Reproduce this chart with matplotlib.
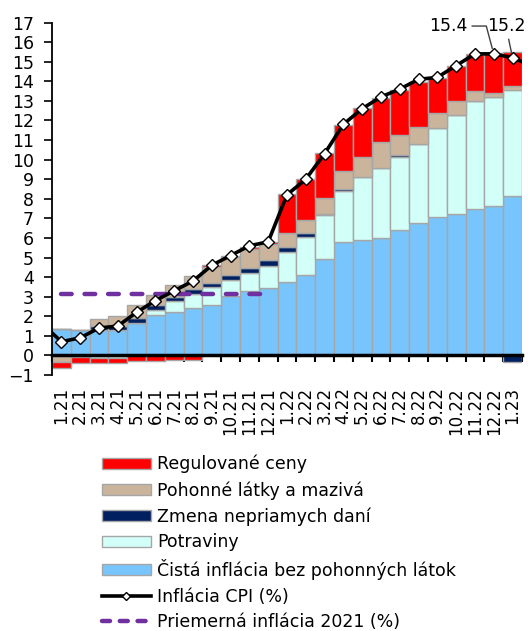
import numpy as np
import matplotlib.pyplot as plt
from matplotlib.patches import Patch
from matplotlib.lines import Line2D

plt.rcParams['font.family'] = ['DejaVu Sans']

mesiace = ['1.21', '2.21', '3.21', '4.21', '5.21', '6.21', '7.21', '8.21', '9.21', '10.21', '11.21', '12.21',
           '1.22', '2.22', '3.22', '4.22', '5.22', '6.22', '7.22', '8.22', '9.22', '10.22', '11.22', '12.22',
           '1.23']
# zlozky (p.b.), poradie od spodu
cista = [1.36, 1.31, 1.32, 1.31, 1.68, 2.05, 2.22, 2.43, 2.55, 3.01, 3.28, 3.44,
         3.73, 4.12, 4.90, 5.77, 5.90, 5.99, 6.38, 6.75, 7.06, 7.23, 7.47, 7.64, 8.15]
potraviny = [0.0, -0.10, -0.12, -0.12, 0.0, 0.28, 0.54, 0.72, 0.92, 0.83, 0.92, 1.13,
             1.57, 1.91, 2.28, 2.63, 3.23, 3.57, 3.77, 4.05, 4.54, 5.05, 5.52, 5.54, 5.40]
dane = [0.0, 0.0, 0.20, 0.20, 0.22, 0.25, 0.22, 0.25, 0.22, 0.25, 0.25, 0.30,
        0.22, 0.22, 0.05, 0.08, 0.0, 0.0, 0.08, 0.0, 0.0, 0.0, 0.0, 0.0, -0.35]
pohonne = [-0.33, 0.0, 0.34, 0.52, 0.68, 0.50, 0.62, 0.65, 0.85, 0.96, 0.97, 0.81,
           0.72, 0.67, 0.80, 0.92, 1.00, 1.32, 1.05, 0.88, 0.76, 0.72, 0.51, 0.20, 0.21]
regulovane = [-0.30, -0.27, -0.25, -0.25, -0.27, -0.27, -0.25, -0.25, 0.09, 0.05, 0.10, 0.10,
              1.99, 2.08, 2.29, 2.38, 2.50, 2.25, 2.26, 2.30, 1.79, 1.78, 1.87, 2.05, 1.75]
cpi = [0.7, 0.9, 1.4, 1.5, 2.2, 2.8, 3.3, 3.8, 4.6, 5.1, 5.6, 5.8,
       8.2, 9.0, 10.3, 11.8, 12.6, 13.2, 13.6, 14.1, 14.2, 14.8, 15.4, 15.4, 15.2]
cpi_pred = 1.6   # 12.20 - len kusok ciary vlavo
cpi_po = 14.8    # 2.23 - len kusok ciary vpravo
priemer_2021 = 3.15

nazvy = ['Čistá inflácia bez pohonných látok', 'Potraviny', 'Zmena nepriamych daní',
         'Pohonné látky a mazivá', 'Regulované ceny']
farby = ['#78C5FE', '#D2FFF8', '#002060', '#CAB49C', '#FF0000']
zlozky = [cista, potraviny, dane, pohonne, regulovane]

x = np.arange(len(mesiace))
fig = plt.figure(figsize=(5.28, 6.31), dpi=100, facecolor='w')
ax = fig.add_axes([0.0985, 0.4057, 0.89, 0.5586])

dole_pos = np.zeros(len(x))
dole_neg = np.zeros(len(x))
for hodn, farba in zip(zlozky, farby):
    h = np.array(hodn)
    spodok = np.where(h >= 0, dole_pos, dole_neg)
    ax.bar(x, h, 1.0, bottom=spodok, color=farba, edgecolor='#A6A6A6', linewidth=1, zorder=2)
    dole_pos = dole_pos + np.clip(h, 0, None)
    dole_neg = dole_neg + np.clip(h, None, 0)

# priemerna inflacia 2021
ax.plot(x[:12], [priemer_2021] * 12, color='#7030A0', lw=3.2, dashes=(2.4, 2.9),
        dash_capstyle='round', zorder=4)

# CPI
xl = np.arange(-1, len(x) + 1)
yl = [cpi_pred] + cpi + [cpi_po]
ax.plot(xl, yl, color='black', lw=2.6, marker='D', ms=6.5, mfc='white', mec='black', mew=1,
        markevery=list(range(1, len(x) + 1)), zorder=5)

ax.annotate('15.4', xy=(23, cpi[23]), xytext=(20.6, 16.82), fontsize=12.5, ha='center', va='center',
            arrowprops=dict(arrowstyle='-', color='#404040', lw=1, shrinkA=1, shrinkB=4,
                            connectionstyle='angle,angleA=0,angleB=105,rad=0'))
ax.annotate('15.2', xy=(24, cpi[24]), xytext=(23.65, 16.82), fontsize=12.5, ha='center', va='center',
            arrowprops=dict(arrowstyle='-', color='#404040', lw=1, shrinkA=1, shrinkB=4))

ax.set_xlim(-0.5, len(x) - 0.5)
ax.set_ylim(-1, 17)
ax.set_yticks(range(-1, 18))
ax.tick_params(axis='y', labelsize=12.5, length=6, width=1.2, pad=7)

ax.spines['top'].set_visible(False)
ax.spines['right'].set_visible(False)
ax.spines['left'].set_linewidth(1.3)
ax.spines['bottom'].set_position(('data', 0))
ax.spines['bottom'].set_linewidth(2.5)
ax.spines['bottom'].set_zorder(6)
ax.set_xticks(x)
ax.set_xticklabels(mesiace, rotation=90, fontsize=12)
ax.set_xticks(np.arange(-0.5, len(x)), minor=True)
ax.tick_params(axis='x', which='major', length=0, pad=23)
ax.tick_params(axis='x', which='minor', length=5, width=1.5)

handles = [Patch(facecolor=farby[4], edgecolor='#A6A6A6'),
           Patch(facecolor=farby[3], edgecolor='#A6A6A6'),
           Patch(facecolor=farby[2], edgecolor='#A6A6A6'),
           Patch(facecolor=farby[1], edgecolor='#A6A6A6'),
           Patch(facecolor=farby[0], edgecolor='#A6A6A6'),
           Line2D([], [], color='black', lw=2.6, marker='D', ms=4, mfc='white', mec='black'),
           Line2D([], [], color='#7030A0', lw=3.2, dashes=(1.8, 2.2), dash_capstyle='round')]
labels = [nazvy[4], nazvy[3], nazvy[2], nazvy[1], nazvy[0], 'Inflácia CPI (%)', 'Priemerná inflácia 2021 (%)']
fig.legend(handles, labels, loc='upper left', bbox_to_anchor=(0.193, 0.279), frameon=False,
           fontsize=12.5, handlelength=2.8, handleheight=0.6, handletextpad=0.4, labelspacing=0.44,
           borderpad=0, borderaxespad=0)

plt.savefig('out.png', dpi=100)
